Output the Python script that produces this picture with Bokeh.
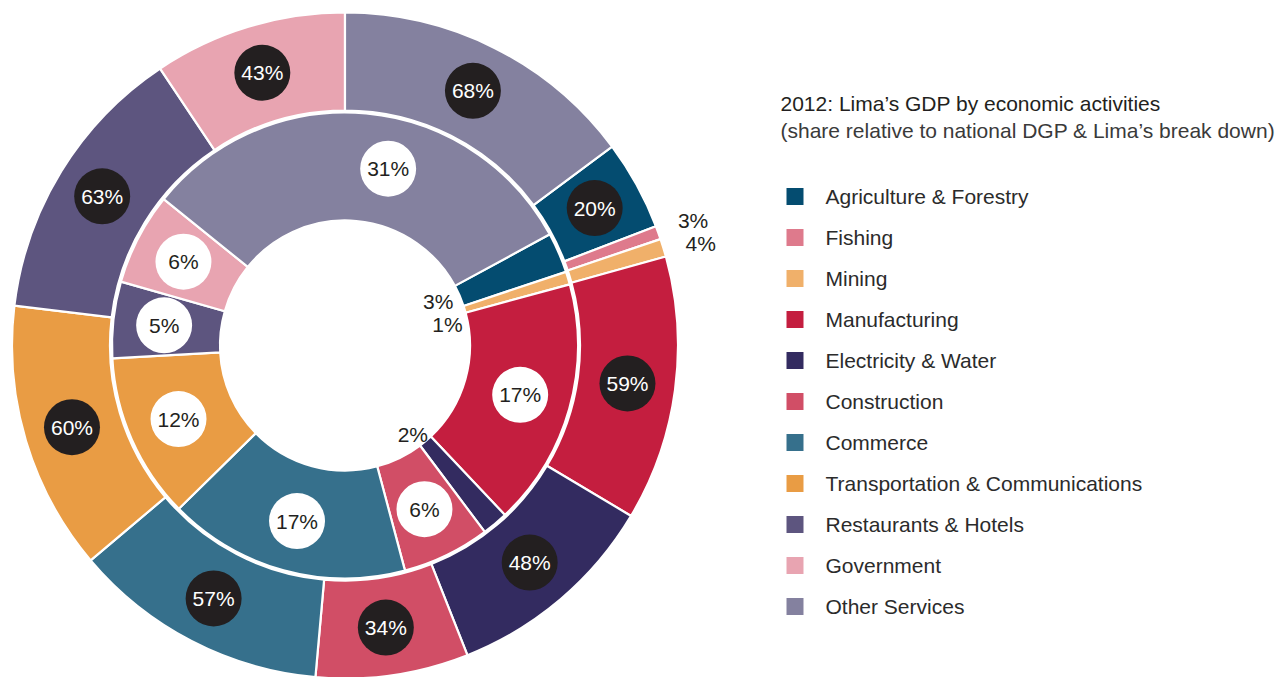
import math
from bokeh.plotting import figure
from bokeh.models import Range1d
from bokeh.core.properties import value
from bokeh.embed import file_html
from bokeh.resources import INLINE

# ---------------- data ----------------
categories = ["Agriculture & Forestry", "Fishing", "Mining", "Manufacturing",
              "Electricity & Water", "Construction", "Commerce",
              "Transportation & Communications", "Restaurants & Hotels",
              "Government", "Other Services"]
# outer ring: Lima's share of the national GDP of each activity (%)
national_share = [20, 3, 4, 59, 48, 34, 57, 60, 63, 43, 68]
# inner ring: Lima's GDP break down (%)
lima_breakdown = [2.8, 0.0, 0.9, 17.2, 1.8, 6.1, 16.8, 11.5, 5.3, 6.4, 31.3]
lima_labels = [3, 0, 1, 17, 2, 6, 17, 12, 5, 6, 31]
colors = ["#044c70", "#de7a8c", "#f0b06a", "#c41e3f", "#332b60", "#d14e66",
          "#36708c", "#e99c44", "#5d557f", "#e8a4b1", "#84819f"]
title = "2012: Lima\u2019s GDP by economic activities"
subtitle = "(share relative to national DGP & Lima\u2019s break down)"

# ---------------- style ----------------
FONT = "Liberation Sans"
FS = "21px"
W, H = 1287, 677
CX, CY = 344.5, -345.0
R_OUT_O, R_OUT_I = 333.0, 235.0
R_IN_O, R_IN_I = 233.0, 125.0
OUT_LABEL_R, IN_LABEL_R = 285.0, 182.0
BADGE_R = 28.0
INNER_START_DEG = 28.5
DARK = "#231f20"
# pixel nudges for the small, circle-less labels (style only)
small_outer = {"Fishing": (370, 0, 0), "Mining": (370, 2, 7)}
small_inner = {"Agriculture & Forestry": (106, -4, -2),
               "Mining": (106, 1, 10),
               "Electricity & Water": (110, -3, 5)}
inner_label_nudge_deg = {"Other Services": -8.5}

p = figure(width=W, height=H, x_range=Range1d(0, W), y_range=Range1d(-H, 0),
           output_backend="svg", toolbar_location=None, min_border=0)
p.axis.visible = False
p.grid.visible = False
p.outline_line_color = None
p.background_fill_color = "white"
p.border_fill_color = "white"


def ring(values, start_deg, total):
    starts, ends, mids = [], [], []
    a = math.radians(start_deg)
    for v in values:
        s = v / total * 2 * math.pi
        starts.append(a - s)
        ends.append(a)
        mids.append(a - s / 2)
        a -= s
    return starts, ends, mids


# outer ring: starts at 12 o'clock with the last category going clockwise
tot_out = float(sum(national_share))
other_span_deg = national_share[-1] / tot_out * 360.0
o_start, o_end, o_mid = ring(national_share, 90.0 - other_span_deg, tot_out)
p.annular_wedge(x=CX, y=CY, inner_radius=R_OUT_I, outer_radius=R_OUT_O,
                start_angle=o_start, end_angle=o_end, fill_color=colors,
                line_color="white", line_width=2.2)

tot_in = float(sum(lima_breakdown))
i_start, i_end, i_mid = ring(lima_breakdown, INNER_START_DEG, tot_in)
keep = [k for k, v in enumerate(lima_breakdown) if v > 0]
p.annular_wedge(x=CX, y=CY, inner_radius=R_IN_I, outer_radius=R_IN_O,
                start_angle=[i_start[k] for k in keep], end_angle=[i_end[k] for k in keep],
                fill_color=[colors[k] for k in keep],
                line_color="white", line_width=2.2)

# ---- outer labels ----
bx, by, bt = [], [], []
sx, sy, st = [], [], []
for k, c in enumerate(categories):
    v = national_share[k]
    if c in small_outer:
        r, dx, dy = small_outer[c]
        sx.append(CX + r * math.cos(o_mid[k]) + dx)
        sy.append(CY + r * math.sin(o_mid[k]) - dy)
        st.append(f"{v}%")
    else:
        bx.append(CX + OUT_LABEL_R * math.cos(o_mid[k]))
        by.append(CY + OUT_LABEL_R * math.sin(o_mid[k]))
        bt.append(f"{v}%")
p.circle(x=bx, y=by, radius=BADGE_R, fill_color=DARK, line_color=None)
p.text(x=bx, y=by, text=bt, text_color="white", text_font=value(FONT),
       text_font_size=FS, text_align="center", text_baseline="middle")

# ---- inner labels ----
wx, wy, wt = [], [], []
for k, c in enumerate(categories):
    v = lima_breakdown[k]
    if v <= 0:
        continue
    lab = f"{lima_labels[k]}%"
    if c in small_inner:
        r, dx, dy = small_inner[c]
        sx.append(CX + r * math.cos(i_mid[k]) + dx)
        sy.append(CY + r * math.sin(i_mid[k]) - dy)
        st.append(lab)
    else:
        a = i_mid[k] + math.radians(inner_label_nudge_deg.get(c, 0.0))
        wx.append(CX + IN_LABEL_R * math.cos(a))
        wy.append(CY + IN_LABEL_R * math.sin(a))
        wt.append(lab)
p.circle(x=wx, y=wy, radius=BADGE_R, fill_color="white", line_color=None)
p.text(x=wx, y=wy, text=wt, text_color=DARK, text_font=value(FONT),
       text_font_size=FS, text_align="center", text_baseline="middle")
p.text(x=sx, y=sy, text=st, text_color=DARK, text_font=value(FONT),
       text_font_size=FS, text_align="center", text_baseline="middle")

# ---- title & legend ----
p.text(x=[780], y=[-103], text=[title], text_color=DARK, text_font=value(FONT),
       text_font_size=FS, text_align="left", text_baseline="middle")
p.text(x=[780], y=[-130], text=[subtitle], text_color="#3a3a3a", text_font=value(FONT),
       text_font_size=FS, text_align="left", text_baseline="middle")

ly = [-(196 + 41 * k) for k in range(len(categories))]
p.rect(x=[794.5] * len(categories), y=ly, width=17, height=17,
       fill_color=colors, line_color=None)
p.text(x=[825] * len(categories), y=ly, text=categories, text_color="#2b2b2b",
       text_font=value(FONT), text_font_size=FS, text_align="left",
       text_baseline="middle")

open("out.html", "w").write(file_html(p, INLINE))
